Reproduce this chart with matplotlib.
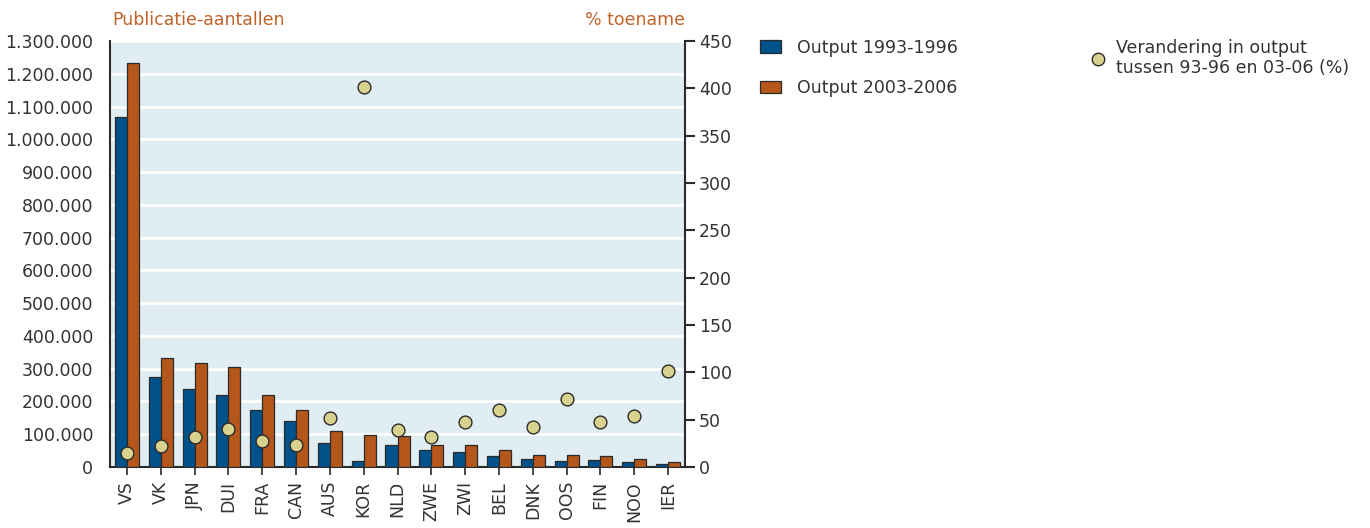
# -*- coding: utf-8 -*-
import matplotlib
matplotlib.use("Agg")
import matplotlib.pyplot as plt
import numpy as np
from matplotlib.ticker import FuncFormatter, MultipleLocator
from matplotlib.lines import Line2D
from matplotlib.patches import Patch

# landen
countries = ["VS", "VK", "JPN", "DUI", "FRA", "CAN", "AUS", "KOR", "NLD",
             "ZWE", "ZWI", "BEL", "DNK", "OOS", "FIN", "NOO", "IER"]
# output 1993-1996
output_9396 = [1069000, 275000, 239000, 219000, 173000, 140000, 74000, 19500, 68000,
               51000, 46000, 34000, 25500, 19500, 21000, 15000, 8000]
# output 2003-2006
output_0306 = [1234000, 334000, 316000, 305000, 221000, 175000, 111000, 99000, 95000,
               68000, 68000, 51000, 37000, 37000, 32500, 24500, 15000]
# % toename
change_pct = [15, 22, 32, 40, 27.5, 23, 52, 401, 39.5,
              32, 48, 60, 42.5, 72, 48, 54, 101.5]

BLUE = "#00538a"
ORANGE = "#b5561a"
DOT = "#d9d28e"
EDGE = "#2b2b2b"
TXT = "#333333"
TITLE = "#c0632a"
BG = "#e0edf3"
FS = 12.5

plt.rcParams['font.family'] = ['DejaVu Sans']
plt.rcParams['font.size'] = FS

fig = plt.figure(figsize=(13.7, 5.28), dpi=100)
ax = fig.add_axes([110 / 1370, 61 / 528, 575 / 1370, 426 / 528])
ax.set_facecolor(BG)

x = np.arange(len(countries))
w = 0.355
ax.bar(x - w / 2, output_9396, w, color=BLUE, edgecolor=EDGE, linewidth=0.9, zorder=3)
ax.bar(x + w / 2, output_0306, w, color=ORANGE, edgecolor=EDGE, linewidth=0.9, zorder=3)

ax.set_xlim(-0.5, len(countries) - 0.5)
ax.set_ylim(0, 1300000)
ax.yaxis.set_major_locator(MultipleLocator(100000))
ax.yaxis.set_major_formatter(FuncFormatter(lambda v, p: f"{int(v):,}".replace(",", ".")))
ax.grid(axis="y", color="white", linewidth=2, zorder=1)
ax.set_axisbelow(True)
ax.tick_params(axis="y", length=0, pad=12, colors=TXT, labelsize=FS)
ax.set_xticks(x)
ax.set_xticklabels(countries, rotation=90)
ax.tick_params(axis="x", length=6, width=1.2, color=EDGE, labelcolor=TXT, labelsize=FS, pad=4)
for s in ["top", "right"]:
    ax.spines[s].set_visible(False)
for s in ["left", "bottom"]:
    ax.spines[s].set_color(EDGE)
    ax.spines[s].set_linewidth(1.5)

ax2 = ax.twinx()
ax2.scatter(x, change_pct, s=85, color=DOT, edgecolor=EDGE, linewidth=1.0, zorder=5)
ax2.set_ylim(0, 450)
ax2.yaxis.set_major_locator(MultipleLocator(50))
ax2.tick_params(axis="y", length=7, width=1.5, color=EDGE, labelcolor=TXT, labelsize=FS, pad=3)
for s in ["top", "left", "bottom"]:
    ax2.spines[s].set_visible(False)
ax2.spines["right"].set_color(EDGE)
ax2.spines["right"].set_linewidth(1.5)

fig.text(112 / 1370, 1 - 20 / 528, "Publicatie-aantallen", color=TITLE, fontsize=FS,
         ha="left", va="center")
fig.text(685 / 1370, 1 - 20 / 528, "% toename", color=TITLE, fontsize=FS,
         ha="right", va="center")

h1 = [Patch(facecolor=BLUE, edgecolor=EDGE, linewidth=0.9, label="Output 1993-1996"),
      Patch(facecolor=ORANGE, edgecolor=EDGE, linewidth=0.9, label="Output 2003-2006")]
fig.legend(handles=h1, loc="upper left", bbox_to_anchor=(744 / 1370, 1 - 23 / 528),
           frameon=False, fontsize=FS, labelspacing=1.3, handlelength=1.25,
           handleheight=0.7, handletextpad=0.9, labelcolor=TXT)
h2 = [Line2D([], [], marker="o", linestyle="none", markersize=9, markerfacecolor=DOT,
             markeredgecolor=EDGE, markeredgewidth=1.0,
             label="Verandering in output\ntussen 93-96 en 03-06 (%)")]
fig.legend(handles=h2, loc="upper left", bbox_to_anchor=(1074 / 1370, 1 - 23 / 528),
           frameon=False, fontsize=FS, handlelength=1.0, handletextpad=0.5,
           labelcolor=TXT)

fig.savefig("out.png", dpi=100)
